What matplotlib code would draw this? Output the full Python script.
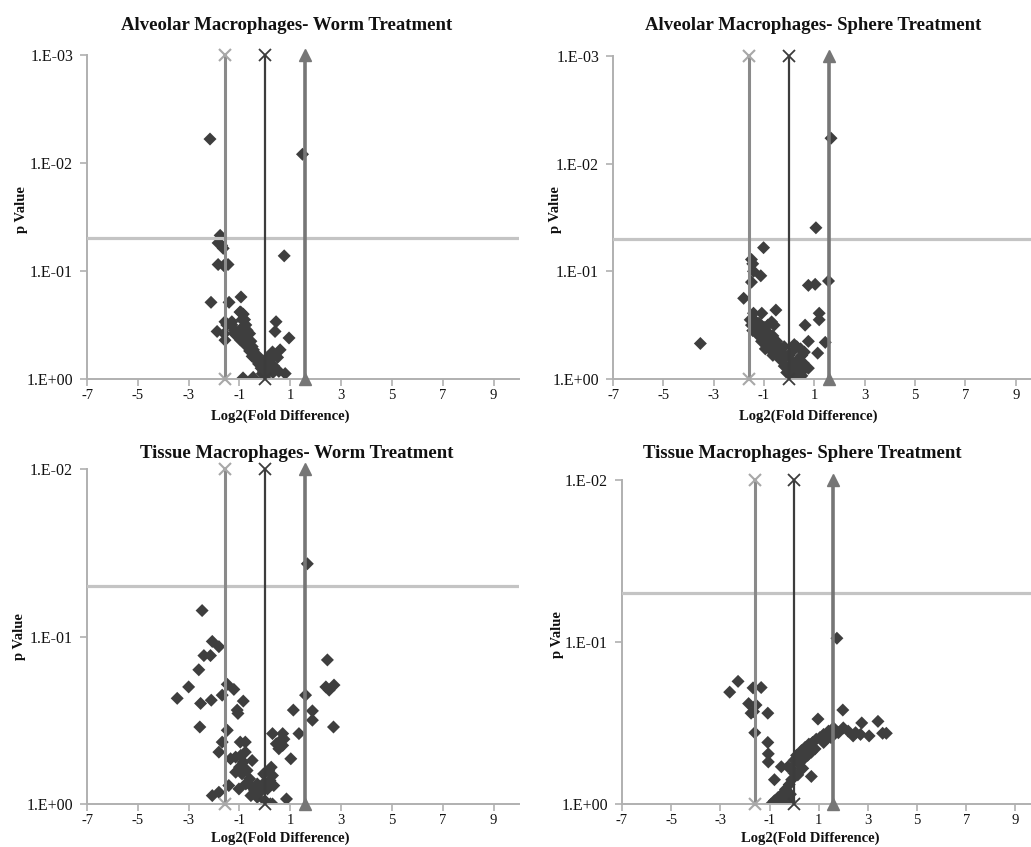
import matplotlib.pyplot as plt
from matplotlib.ticker import FixedLocator, FixedFormatter, NullLocator
import numpy as np

plt.rcParams['font.family'] = ['Liberation Serif', 'DejaVu Serif']

W, H = 1031, 847

# x ticks and threshold lines (log2 fold difference)
x_ticks = [-7, -5, -3, -1, 1, 3, 5, 7, 9]
fold_lines = [-1.585, 0.0, 1.585]
p_cut = 0.05

# Alveolar Macrophages - Worm Treatment
am_worm_x = [-2.16, 1.48, -1.76, -1.84, -1.64, -1.70, 0.76, -1.84, -1.45, -1.62,
             -2.12, -1.41, -0.94, -0.98, -1.57, -1.30, -1.88, -1.57, 0.44, 0.40,
             0.95, -0.86, -0.46, 0.32, 0.80, 0.55, 0.00,
             -0.95, -0.85, -0.90, -0.80, -0.75, -0.85, -0.70, -0.90, -0.60, -0.75,
             -0.95, -0.65, -0.55, -0.80, -0.50, -0.70, -0.45, -0.60, -0.40, -0.30,
             -0.50, -0.35, -0.20, -0.25, -0.10, -0.15, 0.00, -0.05, 0.05, 0.10,
             0.20, 0.25, 0.30, 0.15, -0.10, 0.05, 0.10, 0.35, 0.50, 0.60,
             -1.50, -1.30, -1.60, -1.20, -1.10, -1.00, -1.20, -0.96]
am_worm_p = [0.0060, 0.0083, 0.0468, 0.0550, 0.0617, 0.0580, 0.0724, 0.0871, 0.0871, 0.0890,
             0.195, 0.195, 0.174, 0.240, 0.295, 0.295, 0.363, 0.437, 0.295, 0.363,
             0.417, 0.977, 0.966, 0.871, 0.891, 0.850, 0.980,
             0.240, 0.251, 0.282, 0.282, 0.316, 0.331, 0.355, 0.380, 0.380, 0.398,
             0.417, 0.437, 0.447, 0.468, 0.501, 0.501, 0.537, 0.550, 0.589, 0.603,
             0.617, 0.661, 0.676, 0.724, 0.741, 0.794, 0.794, 0.851, 0.759, 0.708,
             0.661, 0.603, 0.562, 0.832, 0.891, 0.912, 0.631, 0.759, 0.631, 0.537,
             0.316, 0.316, 0.380, 0.355, 0.398, 0.355, 0.380, 0.437]

# Alveolar Macrophages - Sphere Treatment
am_sphere_x = [1.66, 1.06, -1.02, -1.50, -1.45, -1.42, -1.13, -1.50, 1.56, 0.76,
               1.03, -1.81, -0.53, -1.42, -1.09, 1.19, 1.19, 0.63, -3.53, 1.43,
               0.76, 1.13, 0.76, 0.37,
               -1.55, -1.40, -1.50, -1.30, -1.20, -1.45, -1.30, -1.15, -1.00, -0.85,
               -0.70, -0.60, -1.20, -1.00, -0.80, -0.65, -1.10, -0.90, -0.70, -0.50,
               -0.95, -0.75, -0.55, -0.40, -0.65, -0.45, -0.30, -0.20, -0.35, -0.15,
               0.00, 0.10, 0.30, 0.20, -0.20, 0.00, 0.15, 0.35, 0.50, 0.55,
               -0.10, 0.10, 0.25, 0.40, 0.55, 0.20, 0.50, 0.30, 0.60, 0.45]
am_sphere_p = [0.0058, 0.0394, 0.0603, 0.0776, 0.0851, 0.100, 0.110, 0.126, 0.123, 0.135,
               0.132, 0.178, 0.229, 0.245, 0.245, 0.245, 0.282, 0.316, 0.468, 0.457,
               0.447, 0.575, 0.794, 0.955,
               0.282, 0.282, 0.316, 0.316, 0.302, 0.355, 0.363, 0.355, 0.331, 0.316,
               0.295, 0.316, 0.398, 0.398, 0.380, 0.398, 0.447, 0.468, 0.457, 0.447,
               0.525, 0.537, 0.525, 0.501, 0.603, 0.575, 0.562, 0.501, 0.661, 0.631,
               0.603, 0.562, 0.501, 0.479, 0.759, 0.759, 0.708, 0.661, 0.603, 0.708,
               0.871, 0.891, 0.832, 0.794, 0.832, 0.955, 0.933, 0.759, 0.562, 0.525]

# Tissue Macrophages - Worm Treatment
tm_worm_x = [1.67, -2.47, -2.07, -1.81, -2.40, -2.14, -2.60, 2.46, -3.00, -1.48,
             -1.22, -1.68, -3.45, -2.53, -2.11, -0.85, -1.09, -1.06, 2.40, 2.72,
             2.53, 1.60, 1.12, 1.87, 1.87, -2.56, 2.70, -1.48, 1.34,
             0.30, 0.70, 0.75, 0.55, 0.70, 0.45, 0.60,
             -1.68, -0.97, -0.77, -1.81, -0.77, -1.35, -1.15, 1.02, -0.50,
             -2.07, -1.81, -1.42, -1.02, 0.00, 0.30, 0.85,
             -1.00, -0.85, -0.70, -0.90, -0.60, -0.75, -0.50, -0.40, -0.30, -0.20,
             -0.10, 0.00, 0.10, 0.20, 0.30, 0.35, 0.15, -0.05, -0.30, -0.55,
             0.25, -1.15, -0.95]
tm_worm_p = [0.0368, 0.070, 0.107, 0.115, 0.130, 0.130, 0.158, 0.138, 0.200, 0.193,
             0.207, 0.224, 0.234, 0.251, 0.240, 0.243, 0.275, 0.288, 0.200, 0.195,
             0.209, 0.224, 0.275, 0.278, 0.316, 0.347, 0.347, 0.363, 0.380,
             0.380, 0.380, 0.410, 0.468, 0.447, 0.437, 0.420,
             0.427, 0.427, 0.427, 0.490, 0.490, 0.537, 0.525, 0.537, 0.550,
             0.891, 0.851, 0.776, 0.813, 0.955, 1.000, 0.933,
             0.603, 0.562, 0.631, 0.661, 0.708, 0.759, 0.794, 0.832, 0.759, 0.851,
             0.794, 0.741, 0.813, 0.724, 0.676, 0.776, 0.631, 0.661, 0.912, 0.891,
             0.603, 0.646, 0.513]

# Tissue Macrophages - Sphere Treatment
tm_sphere_x = [1.74, -2.28, -2.62, -1.67, -1.34, -1.85, -1.65, -1.75, -1.55, -1.07,
               1.98, 0.97, 3.41, 3.75, 3.60, -1.60, -1.07, -1.05, -1.05, -0.52,
               -0.25, 0.70, -0.80,
               1.20, 1.40, 1.60, 1.80, 2.00, 2.20, 2.40, 2.50, 2.70, 2.75,
               3.05, 1.30, 1.50,
               0.10, 0.30, 0.45, 0.60, 0.75, 0.90, 1.05, 1.20, 0.40, 0.55,
               0.70, 0.20, 0.35, 0.00, 0.85, 0.15, -0.10,
               -0.93, -0.80, -0.65, -0.50, -0.35, -0.20, -0.10, 0.00, -0.60, -0.40,
               -0.20, -0.30, -0.15]
tm_sphere_p = [0.0948, 0.175, 0.204, 0.192, 0.191, 0.240, 0.269, 0.275, 0.245, 0.275,
               0.263, 0.299, 0.309, 0.366, 0.366, 0.363, 0.417, 0.490, 0.550, 0.589,
               0.589, 0.676, 0.708,
               0.372, 0.355, 0.339, 0.363, 0.339, 0.355, 0.380, 0.363, 0.372, 0.316,
               0.380, 0.398, 0.389,
               0.501, 0.468, 0.447, 0.427, 0.417, 0.398, 0.389, 0.417, 0.525, 0.501,
               0.479, 0.562, 0.603, 0.537, 0.457, 0.661, 0.603,
               1.000, 0.955, 0.912, 0.871, 0.813, 0.759, 0.708, 0.646, 1.000, 0.977,
               0.955, 0.891, 0.871]


def fx(px):
    return px / W


def fy(py):
    return 1 - py / H


def panel(box, title, title_xy, xlab_xy, ylab_xy, xs, ps, p_top, yticklabels):
    left, top, right, bottom = box
    ax = fig.add_axes([fx(left), fy(bottom), fx(right - left), (bottom - top) / H])
    ax.scatter(xs, ps, marker='D', s=44, color='#3e3e3e', edgecolors='none', zorder=2)
    ax.axhline(p_cut, color='#c4c4c4', lw=2.3, zorder=3)
    # threshold lines with end markers, like the Excel series
    ax.plot([fold_lines[0]] * 2, [1, p_top], color='#8a8a8a', lw=2.2, marker='x',
            ms=9, mec='#a8a8a8', mew=1.5, zorder=4, clip_on=False)
    ax.plot([fold_lines[1]] * 2, [1, p_top], color='#3c3c3c', lw=1.6, marker='x',
            ms=9, mec='#3c3c3c', mew=1.3, zorder=4, clip_on=False)
    ax.plot([fold_lines[2]] * 2, [1, p_top], color='#767676', lw=2.6, marker='^',
            ms=8, mfc='#767676', mec='#767676', zorder=4, clip_on=False)
    ax.set_yscale('log')
    ax.set_ylim(1, p_top)
    yt = [10.0 ** (-i) for i in range(len(yticklabels))]
    ax.yaxis.set_major_locator(FixedLocator(yt))
    ax.yaxis.set_major_formatter(FixedFormatter(yticklabels))
    ax.yaxis.set_minor_locator(NullLocator())
    ax.set_xlim(-7, 10)
    ax.set_xticks(x_ticks)
    ax.set_xticklabels([str(t) for t in x_ticks])
    for s in ['top', 'right']:
        ax.spines[s].set_visible(False)
    for s in ['left', 'bottom']:
        ax.spines[s].set_color('#b0b0b0')
        ax.spines[s].set_linewidth(1.4)
    ax.tick_params(axis='both', colors='#b0b0b0', labelcolor='#111111',
                   length=5, width=1.2, direction='out')
    ax.tick_params(axis='x', pad=2.5, labelsize=10.5)
    ax.tick_params(axis='y', pad=5, labelsize=11.5)
    fig.text(fx(title_xy[0]), fy(title_xy[1]), title, ha='center', va='center',
             fontsize=13.5, fontweight='bold', color='#111111')
    fig.text(fx(xlab_xy[0]), fy(xlab_xy[1]), 'Log2(Fold Difference)', ha='center',
             va='center', fontsize=10.5, fontweight='bold', color='#111111')
    fig.text(fx(ylab_xy[0]), fy(ylab_xy[1]), 'p Value', ha='center', va='center',
             rotation=90, fontsize=10.5, fontweight='bold', color='#111111')
    return ax


fig = plt.figure(figsize=(W / 100, H / 100), dpi=100)

lab3 = ['1.E+00', '1.E-01', '1.E-02', '1.E-03']
lab2 = ['1.E+00', '1.E-01', '1.E-02']

panel((87, 55, 519, 379), 'Alveolar Macrophages- Worm Treatment', (287, 25), (280, 416), (21, 210),
      am_worm_x, am_worm_p, 1e-3, lab3)
panel((613, 56, 1041, 379), 'Alveolar Macrophages- Sphere Treatment', (813, 25), (808, 416), (555, 210),
      am_sphere_x, am_sphere_p, 1e-3, lab3)
panel((87, 469, 519, 804), 'Tissue Macrophages- Worm Treatment', (297, 453), (280, 838), (20, 637),
      tm_worm_x, tm_worm_p, 1e-2, lab2)
panel((622, 480, 1040, 804), 'Tissue Macrophages- Sphere Treatment', (802, 453), (810, 838), (557, 635),
      tm_sphere_x, tm_sphere_p, 1e-2, lab2)

plt.savefig('out.png', dpi=100)
